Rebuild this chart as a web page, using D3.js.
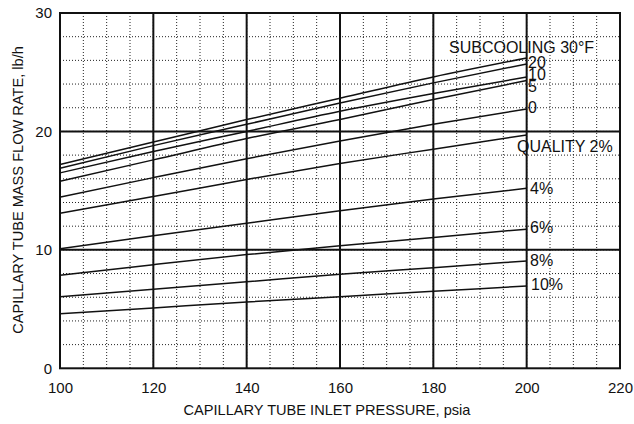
<!DOCTYPE html>
<html><head><meta charset="utf-8">
<script src="https://cdn.jsdelivr.net/npm/d3@7"></script>
<style>body{margin:0;background:#fff}svg{display:block}text{font-family:"Liberation Sans",Arial,sans-serif;fill:#111}</style>
</head><body><svg id="c" width="634" height="424"></svg>
<script>
const pressures = [100, 120, 140, 160, 180, 200];
const sub30 = [17.2, 19.1, 21.0, 22.8, 24.6, 26.2];
const sub20 = [16.9, 18.8, 20.6, 22.4, 24.1, 25.7];
const sub10 = [16.5, 18.3, 20.0, 21.7, 23.2, 24.6];
const sub5  = [15.8, 17.6, 19.4, 21.0, 22.7, 24.3];
const sub0  = [14.45, 16.1, 17.7, 19.2, 20.6, 21.9];
const q2  = [13.1, 14.5, 15.95, 17.3, 18.5, 19.7];
const q4  = [10.1, 11.2, 12.25, 13.3, 14.3, 15.2];
const q6  = [7.85, 8.75, 9.6, 10.35, 11.05, 11.75];
const q8  = [6.05, 6.67, 7.3, 7.95, 8.5, 9.06];
const q10 = [4.6, 5.1, 5.6, 6.05, 6.5, 6.95];
const seriesLabels = ["SUBCOOLING 30°F", "20", "10", "5", "0", "QUALITY 2%", "4%", "6%", "8%", "10%"];
const xTicks = [100, 120, 140, 160, 180, 200, 220];
const yTicks = [0, 10, 20, 30];

const series = [sub30, sub20, sub10, sub5, sub0, q2, q4, q6, q8, q10];
const svg = d3.select("#c");
const L = 60, R = 620, T = 13, B = 368.3;
const x = d3.scaleLinear().domain([100, 220]).range([L, R]);
const y = d3.scaleLinear().domain([0, 30]).range([B, T]);

const g = svg.append("g");
// minor dotted grid
g.selectAll(".mx").data(d3.range(105, 220, 5)).join("line")
  .attr("x1", d => x(d)).attr("x2", d => x(d)).attr("y1", T).attr("y2", B)
  .attr("stroke", "#222").attr("stroke-width", 1).attr("stroke-dasharray", "1,2");
g.selectAll(".my").data(d3.range(2, 30, 2)).join("line")
  .attr("y1", d => y(d)).attr("y2", d => y(d)).attr("x1", L).attr("x2", R)
  .attr("stroke", "#222").attr("stroke-width", 1).attr("stroke-dasharray", "1,2");
// major grid
g.selectAll(".Mx").data([120, 140, 160, 180, 200]).join("line")
  .attr("x1", d => x(d)).attr("x2", d => x(d)).attr("y1", T).attr("y2", B)
  .attr("stroke", "#111").attr("stroke-width", 2);
g.selectAll(".My").data([10, 20]).join("line")
  .attr("y1", d => y(d)).attr("y2", d => y(d)).attr("x1", L).attr("x2", R)
  .attr("stroke", "#111").attr("stroke-width", 2);
// frame
g.append("rect").attr("x", L).attr("y", T).attr("width", R - L).attr("height", B - T)
  .attr("fill", "none").attr("stroke", "#111").attr("stroke-width", 2);

// axes (labels only)
const xa = svg.append("g").attr("transform", `translate(0,${B})`)
  .call(d3.axisBottom(x).tickValues(xTicks).tickSize(0).tickPadding(14));
xa.select(".domain").remove();
xa.selectAll("text").attr("font-size", 15).attr("fill", "#111");
const ya = svg.append("g").attr("transform", `translate(${L},0)`)
  .call(d3.axisLeft(y).tickValues(yTicks).tickSize(0).tickPadding(8));
ya.select(".domain").remove();
ya.selectAll("text").attr("font-size", 15).attr("fill", "#111");

// curves
const line = d3.line().x((d, i) => x(pressures[i])).y(d => y(d)).curve(d3.curveMonotoneX);
svg.append("g").selectAll("path").data(series).join("path")
  .attr("d", d => line(d)).attr("fill", "none").attr("stroke", "#111").attr("stroke-width", 1.5);

// curve labels
const labPos = [
  [449, 52.7], [528, 68], [528, 80], [528, 91.7], [528, 113],
  [517, 151.5], [530, 194], [530, 232.7], [530, 265.5], [531, 290]
];
svg.append("g").selectAll("text").data(seriesLabels).join("text")
  .attr("x", (d, i) => labPos[i][0]).attr("y", (d, i) => labPos[i][1])
  .attr("font-size", 16).text(d => d);

// axis titles
svg.append("text").attr("x", 327).attr("y", 415).attr("text-anchor", "middle")
  .attr("font-size", 14.6).text("CAPILLARY TUBE INLET PRESSURE, psia");
svg.append("text").attr("transform", "translate(23,190) rotate(-90)").attr("text-anchor", "middle")
  .attr("font-size", 14.6).text("CAPILLARY TUBE MASS FLOW RATE, lb/h");
</script></body></html>
